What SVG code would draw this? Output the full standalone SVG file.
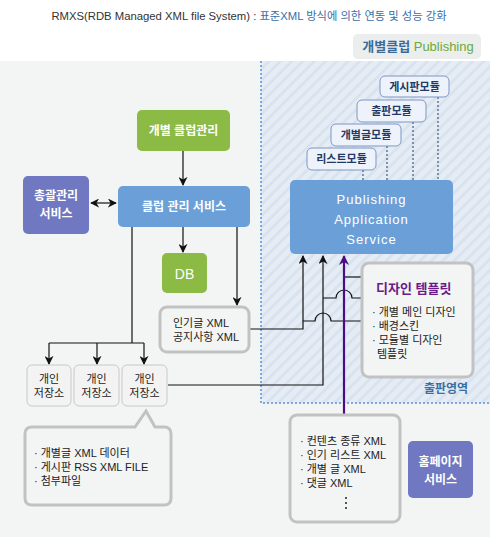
<svg xmlns="http://www.w3.org/2000/svg" width="490" height="537" viewBox="0 0 490 537">
<style>
text{font-family:"Liberation Sans","Noto Sans CJK KR",sans-serif;}
.wt{fill:#fff;font-weight:bold;font-size:12px;text-anchor:middle;}
.mod{fill:#eef3fb;stroke:#7d97c4;stroke-width:1;}
.modt{fill:#1f3a66;font-weight:bold;font-size:11px;text-anchor:middle;}
.dot{stroke:#1f3a66;stroke-width:1;stroke-dasharray:2,2;fill:none;}
.ln{stroke:#111;stroke-width:1.2;fill:none;}
.gbox{fill:#f3f4f4;stroke:#c2c2c2;stroke-width:3;}
.sbox{fill:#f3f3f3;stroke:#c8c8c8;stroke-width:1;}
.bt{fill:#222;font-size:11px;}
.green{fill:#8bba45;}
.blue{fill:#6a9fd8;}
.purp{fill:#6f78c0;}
</style>
<defs>
<pattern id="hatch" width="8" height="8" patternUnits="userSpaceOnUse" patternTransform="rotate(45)">
<rect width="8" height="8" fill="#e5ecf4"/>
<rect width="3" height="8" fill="#d9e3ef"/>
</pattern>
<marker id="ah" viewBox="0 0 10 10" refX="9" refY="5" markerWidth="9" markerHeight="9" markerUnits="userSpaceOnUse" orient="auto-start-reverse">
<path d="M0,0 L10,5 L0,10 L3,5 z" fill="#111"/>
</marker>
<marker id="ahp" viewBox="0 0 10 10" refX="9" refY="5" markerWidth="10" markerHeight="10" markerUnits="userSpaceOnUse" orient="auto">
<path d="M0,0 L10,5 L0,10 L3,5 z" fill="#4b0e82"/>
</marker>
</defs>

<!-- backgrounds -->
<rect x="0" y="0" width="490" height="537" fill="#fff"/>
<rect x="0" y="61" width="490" height="476" fill="#f3f4f4"/>
<rect x="261" y="61" width="229" height="342" fill="url(#hatch)"/>
<path d="M261,61 V403 H490" fill="none" stroke="#7ba9e0" stroke-width="2" stroke-dasharray="2,2"/>

<!-- header -->
<text x="249" y="20" font-size="11.3" text-anchor="middle"><tspan fill="#333">RMXS(RDB Managed XML file System) : </tspan><tspan fill="#3a6ea5">표준XML 방식에 의한 연동 및 성능 강화</tspan></text>
<rect x="353" y="34" width="128" height="25" rx="5" fill="#eceeee"/>
<text x="418" y="51" font-size="13" text-anchor="middle" font-weight="bold"><tspan fill="#3a6a9a">개별클럽 </tspan><tspan fill="#6aaa3a" font-weight="normal">Publishing</tspan></text>

<!-- connectors -->
<g id="connectors">
<line class="ln" x1="183" y1="151" x2="183" y2="185" marker-end="url(#ah)"/>
<line class="ln" x1="91" y1="203" x2="116" y2="203" marker-start="url(#ah)" marker-end="url(#ah)"/>
<line class="ln" x1="183" y1="227" x2="183" y2="252" marker-end="url(#ah)"/>
<line class="ln" x1="237" y1="227" x2="237" y2="305" marker-end="url(#ah)"/>
<path class="ln" d="M132,227 V343"/>
<path class="ln" d="M49,343 H144"/>
<line class="ln" x1="49" y1="343" x2="49" y2="364" marker-end="url(#ah)"/>
<line class="ln" x1="97" y1="343" x2="97" y2="364" marker-end="url(#ah)"/>
<line class="ln" x1="144" y1="343" x2="144" y2="364" marker-end="url(#ah)"/>
<path class="ln" d="M250,329 H303 V256" marker-end="url(#ah)"/>
<path class="ln" d="M168,385 H323 V256" marker-end="url(#ah)"/>
<path class="ln" d="M303,321 H315 A8,8 0 0 1 331,321 H362"/>
<path class="ln" d="M323,298 H336 A8,8 0 0 1 352,298 H362"/>
<path class="ln" d="M344,277 H362"/>
<path d="M344,415 V256" stroke="#4b0e82" stroke-width="2.2" fill="none" marker-end="url(#ahp)"/>
<line class="dot" x1="363" y1="170" x2="363" y2="180"/>
<line class="dot" x1="387" y1="146" x2="387" y2="180"/>
<line class="dot" x1="413" y1="122" x2="413" y2="180"/>
<line class="dot" x1="438" y1="97" x2="438" y2="180"/>
</g>

<!-- modules -->
<g id="mod-board"><rect class="mod" x="380" y="76" width="69" height="21" rx="5"/><text class="modt" x="414.5" y="90.5">게시판모듈</text></g>
<g id="mod-pub"><rect class="mod" x="357" y="100" width="69" height="22" rx="5"/><text class="modt" x="391.5" y="115">출판모듈</text></g>
<g id="mod-post"><rect class="mod" x="331" y="124" width="70" height="22" rx="5"/><text class="modt" x="366" y="139">개별글모듈</text></g>
<g id="mod-list"><rect class="mod" x="307" y="148" width="69" height="22" rx="5"/><text class="modt" x="341.5" y="163">리스트모듈</text></g>

<!-- Publishing -->
<g id="publishing"><rect class="blue" x="290" y="180" width="163" height="74" rx="5"/>
<text x="371.5" y="204" fill="#fff" font-size="13" text-anchor="middle" letter-spacing="1">Publishing</text>
<text x="371.5" y="224" fill="#fff" font-size="13" text-anchor="middle" letter-spacing="1">Application</text>
<text x="371.5" y="244" fill="#fff" font-size="13" text-anchor="middle" letter-spacing="1">Service</text></g>

<!-- left nodes -->
<g id="club-admin"><rect class="green" x="137" y="110" width="93" height="41" rx="5"/><text class="wt" x="183.5" y="135">개별 클럽관리</text></g>
<g id="club-service"><rect class="blue" x="118" y="186" width="132" height="41" rx="5"/><text class="wt" x="184" y="211">클럽 관리 서비스</text></g>
<g id="general-admin"><rect class="purp" x="23" y="176" width="66" height="58" rx="5"/><text class="wt" x="56" y="200">총괄관리</text><text class="wt" x="56" y="218">서비스</text></g>
<g id="db"><rect class="green" x="162" y="253" width="45" height="40" rx="5"/><text x="184.5" y="279" fill="#fff" font-size="14" text-anchor="middle">DB</text></g>
<g id="popular"><rect class="gbox" x="160" y="307" width="89" height="45" rx="7"/><text class="bt" x="173" y="327">인기글 XML</text><text class="bt" x="173" y="341">공지사항 XML</text></g>
<g id="store1"><rect class="sbox" x="27" y="365" width="44" height="41" rx="5"/><text class="bt" x="49" y="383" text-anchor="middle">개인</text><text class="bt" x="49" y="397" text-anchor="middle">저장소</text></g>
<g id="store2"><rect class="sbox" x="74" y="365" width="45" height="41" rx="5"/><text class="bt" x="96.5" y="383" text-anchor="middle">개인</text><text class="bt" x="96.5" y="397" text-anchor="middle">저장소</text></g>
<g id="store3"><rect class="sbox" x="122" y="365" width="45" height="41" rx="5"/><text class="bt" x="144.5" y="383" text-anchor="middle">개인</text><text class="bt" x="144.5" y="397" text-anchor="middle">저장소</text></g>

<!-- callout -->
<g id="store-note"><path class="gbox" d="M32,427 H135 L146,411 L155,427 H164 Q171,427 171,434 V498 Q171,505 164,505 H32 Q25,505 25,498 V434 Q25,427 32,427 Z"/>
<text class="bt" x="34" y="457">· 개별글 XML 데이터</text>
<text class="bt" x="34" y="471">· 게시판 RSS XML FILE</text>
<text class="bt" x="34" y="485">· 첨부파일</text></g>

<!-- design template -->
<g id="design-template"><rect class="gbox" x="362" y="263" width="111" height="114" rx="7"/>
<text x="376" y="293" fill="#6a1b8a" font-size="13" font-weight="bold">디자인 템플릿</text>
<text class="bt" x="372" y="316">· 개별 메인 디자인</text>
<text class="bt" x="372" y="330">· 배경스킨</text>
<text class="bt" x="372" y="344">· 모듈별 디자인</text>
<text class="bt" x="377" y="358">템플릿</text></g>
<text x="446" y="393" fill="#3a6ea5" font-size="12" font-weight="bold" text-anchor="middle">출판영역</text>

<!-- content -->
<g id="content"><rect class="gbox" x="290" y="415" width="110" height="107" rx="7"/>
<text class="bt" x="300" y="445">· 컨텐츠 종류 XML</text>
<text class="bt" x="300" y="459">· 인기 리스트 XML</text>
<text class="bt" x="300" y="473">· 개별 글 XML</text>
<text class="bt" x="300" y="487">· 댓글 XML</text>
<path d="M346,497 V499 M346,502 V504 M346,507 V509" stroke="#222" stroke-width="1.5"/></g>

<g id="homepage"><rect class="purp" x="408" y="441" width="65" height="57" rx="5"/><text class="wt" x="440.5" y="466">홈페이지</text><text class="wt" x="440.5" y="484">서비스</text></g>
</svg>
